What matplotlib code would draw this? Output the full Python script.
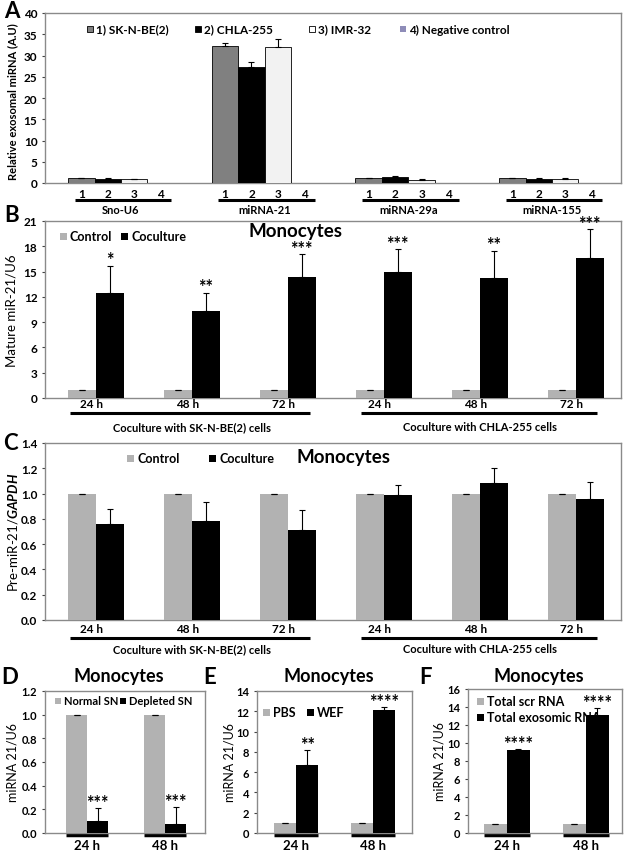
import matplotlib
matplotlib.use("Agg")
import matplotlib.pyplot as plt
import numpy as np
from matplotlib.patches import Rectangle

plt.rcParams['font.family'] = ['Lato', 'DejaVu Sans']
plt.rcParams['font.weight'] = 'bold'
plt.rcParams['mathtext.fontset'] = 'custom'
plt.rcParams['mathtext.rm'] = 'Lato'
plt.rcParams['mathtext.it'] = 'Lato:italic'

# ---- data ----
# A: exosomal miRNA per cell line
a_groups = ['Sno-U6', 'miRNA-21', 'miRNA-29a', 'miRNA-155']
a_series = ['1) SK-N-BE(2)', '2) CHLA-255', '3) IMR-32', '4) Negative control']
a_skn = [1.1, 32.3, 1.1, 1.1]
a_skn_err = [0.15, 0.7, 0.1, 0.15]
a_chla = [1.0, 27.2, 1.3, 1.0]
a_chla_err = [0.1, 1.3, 0.3, 0.2]
a_imr = [0.9, 32.1, 0.8, 0.9]
a_imr_err = [0.1, 1.9, 0.1, 0.2]
a_neg = [0, 0, 0, 0]

# B / C: monocyte coculture time course
bc_times = ['24 h', '48 h', '72 h', '24 h', '48 h', '72 h']
bc_cocultures = ['Coculture with SK-N-BE(2) cells', 'Coculture with CHLA-255 cells']
b_control = [1, 1, 1, 1, 1, 1]
b_coculture = [12.4, 10.3, 14.4, 14.9, 14.2, 16.6]
b_coculture_err = [3.3, 2.2, 2.7, 2.8, 3.3, 3.4]
b_stars = ['*', '**', '***', '***', '**', '***']

c_control = [1, 1, 1, 1, 1, 1]
c_coculture = [0.76, 0.78, 0.71, 0.99, 1.08, 0.96]
c_coculture_err = [0.12, 0.15, 0.16, 0.08, 0.12, 0.13]

# D / E / F
def_times = ['24 h', '48 h']
d_normal = [1.0, 1.0]
d_depleted = [0.10, 0.08]
d_depleted_err = [0.11, 0.14]
d_stars = ['***', '***']

e_pbs = [1.0, 1.0]
e_wef = [6.75, 12.1]
e_wef_err = [1.4, 0.3]
e_stars = ['**', '****']

f_scr = [1.0, 1.0]
f_exo = [9.2, 13.15]
f_exo_err = [0.1, 0.7]
f_stars = ['****', '****']

GREY = '#b2b2b2'
W, H = 625, 853
fig = plt.figure(figsize=(W / 100, H / 100), dpi=100)


def add_ax(box, tick_fs=8.5):
    l, t, r, b = box
    ax = fig.add_axes([l / W, 1 - b / H, (r - l) / W, (b - t) / H])
    for sp in ax.spines.values():
        sp.set_color('#8a8a8a')
        sp.set_linewidth(1.0)
    ax.set_xticks([])
    ax.tick_params(axis='y', length=2.5, width=0.8, color='#444444', pad=3,
                   labelsize=tick_fs)
    return ax


def yfrac(box, y):
    l, t, r, b = box
    return (b - y) / (b - t)


def ftext(x, y, s, **kw):
    kw.setdefault('ha', 'center')
    kw.setdefault('va', 'center')
    fig.text(x / W, 1 - y / H, s, **kw)


def key(ax, x, y, color, label, size=6, edge='none', fs=8.5):
    # legend entry drawn inside the axes, under the bars
    ax.add_artist(Rectangle((x / W, 1 - (y + size / 2) / H), size / W, size / H,
                            transform=fig.transFigure, facecolor=color,
                            edgecolor=edge, lw=0.6, zorder=1))
    ax.text((x + size + 3) / W, 1 - y / H, label, transform=fig.transFigure,
            ha='left', va='center', fontsize=fs, zorder=1)


def errs(ax, xs, vals, err):
    ax.errorbar(xs, vals, yerr=[np.zeros(len(err)), err], fmt='none',
                ecolor='black', elinewidth=0.8, capsize=2.5, capthick=0.8, zorder=4)


def stars(ax, xs, tops, labels, fs=12):
    for xx, tt, s in zip(xs, tops, labels):
        ax.annotate(s, (xx, tt), xytext=(0, -2), textcoords='offset points',
                    ha='center', va='bottom', fontsize=fs)


def uline(ax, x0, x1, yf, lw=2.2):
    ax.plot([x0, x1], [yf, yf], transform=ax.get_xaxis_transform(),
            clip_on=False, color='black', lw=lw, solid_capstyle='butt')


# ---- A ----
a_box = (45, 14, 621, 184)
ax = add_ax(a_box)
x = np.arange(len(a_groups))
w = 0.184
cols = ['#808080', 'black', '#f2f2f2', '#8e8cb8']
for i, (vals, err) in enumerate([(a_skn, a_skn_err), (a_chla, a_chla_err),
                                  (a_imr, a_imr_err), (a_neg, None)]):
    xs = x + (i - 1.5) * w
    ax.bar(xs, vals, w, color=cols[i], edgecolor='black',
           linewidth=0.6 if err is not None else 0, zorder=3)
    if err is not None:
        errs(ax, xs, vals, err)
    for xx in xs:
        ax.text(xx, yfrac(a_box, 195), str(i + 1), transform=ax.get_xaxis_transform(),
                ha='center', va='center', fontsize=8.5)
for g in x:
    uline(ax, g - 1.75 * w, g + 1.9 * w, yfrac(a_box, 201))
    ax.text(g, yfrac(a_box, 211), a_groups[g], transform=ax.get_xaxis_transform(),
            ha='center', va='center', fontsize=8)
ax.set_xlim(-0.529, 3.48)
ax.set_ylim(0, 40)
ax.set_yticks(range(0, 41, 5))
key(ax, 87, 30, cols[0], a_series[0], edge='black')
key(ax, 195, 30, cols[1], a_series[1], edge='black')
key(ax, 309, 30, 'white', a_series[2], edge='black')
key(ax, 400, 30, cols[3], a_series[3])
ftext(13, 102, 'Relative exosomal miRNA (A.U)', rotation=90, fontsize=8)
ftext(12, 12, 'A', fontsize=16)


# ---- B / C ----
def time_panel(box, ctrl, cocu, err, ylim, yticks, fmt, ylabel, ylab_x,
               lab_y, line_y, grp_y, leg, title_xy):
    ax = add_ax(box)
    x = np.arange(len(bc_times))
    w = 0.29
    ax.bar(x - w / 2, ctrl, w, color=GREY, zorder=3)
    ax.bar(x + w / 2, cocu, w, color='black', zorder=3)
    errs(ax, x - w / 2, ctrl, [0] * len(ctrl))
    errs(ax, x + w / 2, cocu, err)
    ax.set_xlim(-0.53, 5.47)
    ax.set_ylim(*ylim)
    ax.set_yticks(yticks)
    ax.set_yticklabels([fmt.format(v) for v in yticks])
    tr = ax.get_xaxis_transform()
    for xx, t in zip(x, bc_times):
        ax.text(xx - 0.05, yfrac(box, lab_y), t, transform=tr, ha='center',
                va='center', fontsize=8.5)
    uline(ax, -0.27, 2.23, yfrac(box, line_y))
    uline(ax, 2.76, 5.22, yfrac(box, line_y))
    for cx, lbl in zip([1.0, 4.0], bc_cocultures):
        ax.text(cx, yfrac(box, grp_y), lbl, transform=tr, ha='center',
                va='center', fontsize=8)
    ftext(ylab_x, (box[1] + box[3]) / 2, ylabel, rotation=90, fontsize=9.5,
          fontweight='normal')
    (k1x, k2x, ky) = leg
    key(ax, k1x, ky, GREY, 'Control', size=7, fs=9)
    key(ax, k2x, ky, 'black', 'Coculture', size=7, fs=9)
    ftext(title_xy[0], title_xy[1], 'Monocytes', fontsize=13.5)
    return ax, x, w


b_box = (45, 222, 621, 399)
ax, x, w = time_panel(b_box, b_control, b_coculture, b_coculture_err, (0, 21),
                      list(range(0, 22, 3)), '{:d}', 'Mature miR-21/U6', 12,
                      405, 414, 428, (60, 121, 237), (296, 232))
stars(ax, x + w / 2, np.add(b_coculture, b_coculture_err), b_stars, fs=13)
ftext(12, 215, 'B', fontsize=16)

c_box = (45, 444, 621, 621)
ax, x, w = time_panel(c_box, c_control, c_coculture, c_coculture_err, (0, 1.4),
                      list(np.round(np.arange(0, 1.41, 0.2), 1)), '{:.1f}',
                      'Pre-miR-21/$\\it{GAPDH}$', 13, 630, 639, 650,
                      (127, 209, 459), (344, 457))
ftext(10, 444, 'C', fontsize=16)


# ---- D / E / F ----
def small_panel(box, ctrl, trt, err, star_lbls, xlim, w, ylim, yticks, fmt,
                ylab_x, letter, letter_x):
    ax = add_ax(box, tick_fs=8)
    x = np.arange(len(def_times))
    ax.bar(x - w / 2, ctrl, w, color=GREY, zorder=3)
    ax.bar(x + w / 2, trt, w, color='black', zorder=3)
    errs(ax, x - w / 2, ctrl, [0] * len(ctrl))
    errs(ax, x + w / 2, trt, err)
    stars(ax, x + w / 2, np.add(trt, err), star_lbls, fs=13)
    ax.set_xlim(*xlim)
    ax.set_ylim(*ylim)
    ax.set_yticks(yticks)
    ax.set_yticklabels([fmt.format(v) for v in yticks])
    tr = ax.get_xaxis_transform()
    for xx, t in zip(x, def_times):
        uline(ax, xx - w, xx + w, yfrac(box, 836), lw=2.5)
        ax.text(xx, yfrac(box, 846), t, transform=tr, ha='center', va='center',
                fontsize=9.5)
    ftext(ylab_x, (box[1] + box[3]) / 2, 'miRNA 21/U6', rotation=90, fontsize=9,
          fontweight='normal')
    ftext((box[0] + box[2]) / 2 - 6, 677, 'Monocytes', fontsize=13)
    ftext(letter_x, 678, letter, fontsize=16)
    return ax


d_box = (45, 692, 205, 834)
ax = small_panel(d_box, d_normal, d_depleted, d_depleted_err, d_stars,
                 (-0.54, 1.51), 0.27, (0, 1.2),
                 list(np.round(np.arange(0, 1.21, 0.2), 1)), '{:.1f}', 13, 'D', 10)
key(ax, 55, 702, GREY, 'Normal SN', size=6, fs=8)
key(ax, 120, 702, 'black', 'Depleted SN', size=6, fs=8)

e_box = (257, 692, 412, 834)
ax = small_panel(e_box, e_pbs, e_wef, e_wef_err, e_stars, (-0.51, 1.51), 0.29,
                 (0, 14), list(range(0, 15, 2)), '{:d}', 229, 'E', 210)
key(ax, 263, 713, GREY, 'PBS', size=7, fs=9)
key(ax, 307, 713, 'black', 'WEF', size=7, fs=9)

f_box = (468, 690, 622, 834)
ax = small_panel(f_box, f_scr, f_exo, f_exo_err, f_stars, (-0.49, 1.46), 0.29,
                 (0, 16), list(range(0, 17, 2)), '{:d}', 439, 'F', 425)
key(ax, 477, 702, GREY, 'Total scr RNA', size=7, fs=9)
key(ax, 477, 718, 'black', 'Total exosomic RNA', size=7, fs=9)

fig.savefig('out.png', dpi=100)
